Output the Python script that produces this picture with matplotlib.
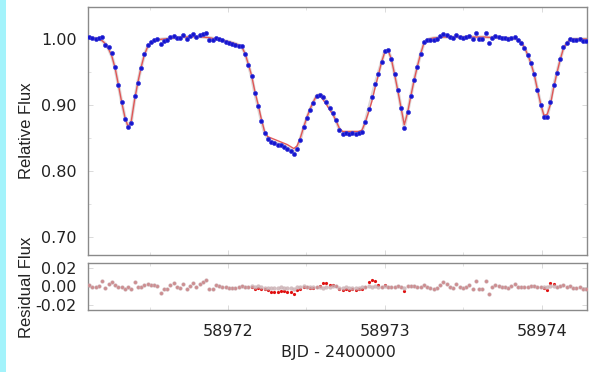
import numpy as np
import matplotlib
matplotlib.use("Agg")
import matplotlib.pyplot as plt
from matplotlib.patches import Rectangle

# Observation times (BJD - 2400000), ~30 min cadence
bjd = [
    58971.1150, 58971.1357, 58971.1564, 58971.1771, 58971.1978, 58971.2185, 58971.2392, 58971.2599,
    58971.2806, 58971.3013, 58971.3220, 58971.3427, 58971.3634, 58971.3841, 58971.4048, 58971.4255,
    58971.4462, 58971.4669, 58971.4876, 58971.5083, 58971.5290, 58971.5497, 58971.5704, 58971.5911,
    58971.6118, 58971.6325, 58971.6532, 58971.6739, 58971.6946, 58971.7153, 58971.7360, 58971.7567,
    58971.7774, 58971.7981, 58971.8188, 58971.8395, 58971.8602, 58971.8809, 58971.9016, 58971.9223,
    58971.9430, 58971.9637, 58971.9844, 58972.0051, 58972.0258, 58972.0465, 58972.0672, 58972.0879,
    58972.1086, 58972.1293, 58972.1500, 58972.1707, 58972.1914, 58972.2121, 58972.2328, 58972.2535,
    58972.2742, 58972.2949, 58972.3156, 58972.3363, 58972.3570, 58972.3777, 58972.3984, 58972.4191,
    58972.4398, 58972.4605, 58972.4812, 58972.5019, 58972.5226, 58972.5433, 58972.5640, 58972.5847,
    58972.6054, 58972.6261, 58972.6468, 58972.6675, 58972.6882, 58972.7089, 58972.7296, 58972.7503,
    58972.7710, 58972.7917, 58972.8124, 58972.8331, 58972.8538, 58972.8745, 58972.8952, 58972.9159,
    58972.9366, 58972.9573, 58972.9780, 58972.9987, 58973.0194, 58973.0401, 58973.0608, 58973.0815,
    58973.1022, 58973.1229, 58973.1436, 58973.1643, 58973.1850, 58973.2057, 58973.2264, 58973.2471,
    58973.2678, 58973.2885, 58973.3092, 58973.3299, 58973.3506, 58973.3713, 58973.3920, 58973.4127,
    58973.4334, 58973.4541, 58973.4748, 58973.4955, 58973.5162, 58973.5369, 58973.5576, 58973.5783,
    58973.5990, 58973.6197, 58973.6404, 58973.6611, 58973.6818, 58973.7025, 58973.7232, 58973.7439,
    58973.7646, 58973.7853, 58973.8060, 58973.8267, 58973.8474, 58973.8681, 58973.8888, 58973.9095,
    58973.9302, 58973.9509, 58973.9716, 58973.9923, 58974.0130, 58974.0337, 58974.0544, 58974.0751,
    58974.0958, 58974.1165, 58974.1372, 58974.1579, 58974.1786, 58974.1993, 58974.2200, 58974.2407,
    58974.2614, 58974.2821,
]

# Measured relative flux
flux = [
    1.0026, 1.0010, 1.0000, 1.0010, 1.0035, 0.9910, 0.9880, 0.9790, 0.9580, 0.9310,
    0.9040, 0.8790, 0.8660, 0.8730, 0.9130, 0.9330, 0.9560, 0.9780, 0.9910, 0.9960,
    0.9985, 0.9995, 0.9925, 0.9975, 0.9980, 1.0030, 1.0050, 1.0020, 1.0010, 1.0060,
    1.0000, 1.0040, 1.0070, 1.0030, 1.0060, 1.0080, 1.0090, 0.9990, 0.9980, 1.0020,
    1.0000, 0.9980, 0.9960, 0.9940, 0.9930, 0.9910, 0.9900, 0.9890, 0.9780, 0.9610,
    0.9440, 0.9180, 0.8990, 0.8760, 0.8570, 0.8480, 0.8440, 0.8420, 0.8400, 0.8390,
    0.8370, 0.8340, 0.8310, 0.8260, 0.8340, 0.8470, 0.8660, 0.8800, 0.8920, 0.9030,
    0.9140, 0.9150, 0.9120, 0.9050, 0.8950, 0.8880, 0.8770, 0.8620, 0.8560, 0.8570,
    0.8560, 0.8570, 0.8560, 0.8570, 0.8590, 0.8740, 0.8940, 0.9120, 0.9320, 0.9470,
    0.9650, 0.9820, 0.9830, 0.9700, 0.9470, 0.9230, 0.8950, 0.8650, 0.8890, 0.9140,
    0.9380, 0.9580, 0.9770, 0.9950, 0.9985, 0.9990, 0.9985, 1.0000, 1.0045, 1.0075,
    1.0060, 1.0030, 1.0015, 1.0060, 1.0030, 1.0015, 1.0030, 1.0045, 1.0000, 1.0090,
    1.0000, 1.0000, 1.0090, 0.9940, 1.0015, 1.0045, 1.0030, 1.0015, 1.0015, 1.0000,
    1.0015, 1.0030, 0.9985, 0.9940, 0.9860, 0.9760, 0.9640, 0.9470, 0.9230, 0.9000,
    0.8820, 0.8820, 0.9050, 0.9300, 0.9480, 0.9700, 0.9880, 0.9940, 1.0000, 0.9985,
    0.9985, 1.0000, 0.9970, 0.9970,
]

# Eclipse model evaluated at each observation time
model_ecl = [
    1.0010, 1.0010, 1.0010, 1.0000, 0.9975, 0.9930, 0.9850, 0.9740, 0.9560, 0.9310,
    0.9050, 0.8820, 0.8670, 0.8760, 0.9080, 0.9340, 0.9570, 0.9760, 0.9880, 0.9940,
    0.9970, 0.9985, 0.9995, 1.0000, 1.0005, 1.0010, 1.0015, 1.0020, 1.0025, 1.0030,
    1.0030, 1.0035, 1.0035, 1.0035, 1.0035, 1.0030, 1.0025, 1.0020, 1.0010, 1.0000,
    0.9990, 0.9980, 0.9970, 0.9960, 0.9945, 0.9930, 0.9910, 0.9880, 0.9780, 0.9620,
    0.9450, 0.9210, 0.9010, 0.8790, 0.8600, 0.8520, 0.8500, 0.8480, 0.8460, 0.8440,
    0.8420, 0.8400, 0.8370, 0.8340, 0.8380, 0.8500, 0.8660, 0.8810, 0.8940, 0.9050,
    0.9140, 0.9140, 0.9080, 0.9010, 0.8930, 0.8860, 0.8760, 0.8650, 0.8600, 0.8600,
    0.8600, 0.8600, 0.8600, 0.8600, 0.8620, 0.8740, 0.8890, 0.9050, 0.9260, 0.9450,
    0.9650, 0.9800, 0.9830, 0.9700, 0.9470, 0.9220, 0.8960, 0.8700, 0.8880, 0.9130,
    0.9370, 0.9580, 0.9770, 0.9930, 0.9985, 1.0005, 1.0015, 1.0020, 1.0025, 1.0030,
    1.0030, 1.0030, 1.0030, 1.0030, 1.0030, 1.0030, 1.0030, 1.0030, 1.0030, 1.0030,
    1.0030, 1.0030, 1.0030, 1.0025, 1.0025, 1.0025, 1.0020, 1.0020, 1.0015, 1.0015,
    1.0010, 1.0005, 0.9990, 0.9950, 0.9870, 0.9760, 0.9630, 0.9460, 0.9230, 0.9010,
    0.8840, 0.8860, 0.9010, 0.9270, 0.9490, 0.9690, 0.9860, 0.9940, 0.9990, 1.0000,
    1.0000, 1.0000, 1.0000, 1.0000,
]

# Full model (eclipse + spot/trend terms); differs from the eclipse model
# only across the deep blended eclipses
model_full = list(model_ecl)
model_full[50:101] = [
    0.9435, 0.9185, 0.8985,
    0.8765, 0.8585, 0.8495, 0.8455, 0.8435, 0.8415, 0.8400, 0.8385, 0.8355, 0.8325,
    0.8290, 0.8345, 0.8480, 0.8655, 0.8805, 0.8930, 0.9040, 0.9140, 0.9160, 0.9135,
    0.9060, 0.8960, 0.8870, 0.8765, 0.8635, 0.8580, 0.8580, 0.8575, 0.8585, 0.8575,
    0.8585, 0.8600, 0.8745, 0.8935, 0.9125, 0.9310, 0.9480, 0.9650, 0.9815, 0.9830,
    0.9705, 0.9470, 0.9225, 0.8960, 0.8670, 0.8885, 0.9135, 0.9375,
]
model_full[140:144] = [0.8830, 0.8830, 0.9045, 0.9295]

x_ticks = [58972, 58973, 58974]
flux_ticks = [0.70, 0.80, 0.90, 1.00]
resid_ticks = [-0.02, 0.00, 0.02]

t = np.array(bjd)
f = np.array(flux)
m_ecl = np.array(model_ecl)
m_full = np.array(model_full)
resid_ecl = f - m_ecl
resid_full = f - m_full

plt.rcParams["font.family"] = ["DejaVu Sans"]
plt.rcParams["axes.unicode_minus"] = False

fig = plt.figure(figsize=(6.0, 3.72), dpi=100)
fig.patch.set_facecolor("white")
fig.patches.append(Rectangle((0, 0), 6 / 600, 1, transform=fig.transFigure,
                             facecolor="#a3f3fb", edgecolor="none", zorder=0))

ax1 = fig.add_axes([88 / 600, 1 - 255 / 372, 499 / 600, 248 / 372])
ax2 = fig.add_axes([88 / 600, 1 - 310 / 372, 499 / 600, 47 / 372], sharex=ax1)

xlim = (58971.108, 58974.287)

# Upper panel: light curve and model
ax1.plot(t, m_full, color="#b8a8a8", lw=2.4, alpha=0.45, zorder=2)
ax1.plot(t, m_ecl, color="#e04848", lw=1.0, alpha=0.9, zorder=3)
ax1.plot(t, f, ls="none", marker="o", ms=2.9, mfc="#1515d0", mec="#3a3ad8",
         mew=0.5, zorder=4)
ax1.set_ylim(0.6727, 1.0485)
ax1.set_yticks(flux_ticks)
ax1.set_yticklabels([f"{v:.2f}" for v in flux_ticks])
ax1.set_yticks([0.75, 0.85, 0.95], minor=True)

# Lower panel: residuals
ax2.plot(t, resid_ecl, ls="none", marker="o", ms=2.3, mfc="#e01010", mec="none", zorder=3)
ax2.plot(t, resid_full, ls="none", marker="o", ms=3.1, mfc="#c9aeb2", mec="none",
         alpha=0.8, zorder=4)
ax2.set_ylim(-0.0254, 0.0254)
ax2.set_yticks(resid_ticks)
ax2.set_yticklabels([f"{v:.2f}" for v in resid_ticks])

ax1.set_xlim(*xlim)
ax2.set_xticks(x_ticks)
ax2.set_xticklabels([str(v) for v in x_ticks])
ax2.set_xticks([58971.5, 58972.5, 58973.5], minor=True)

for ax in (ax1, ax2):
    for sp in ax.spines.values():
        sp.set_color("#8a8a8a")
        sp.set_linewidth(1.0)
    ax.tick_params(which="both", direction="in", top=True, right=True,
                   color="#d4d4d4", labelsize=11.5, labelcolor="#222222")
    ax.tick_params(which="major", length=3.5, width=0.6, pad=8)
    ax.tick_params(which="minor", length=2, width=0.5)
ax1.tick_params(axis="x", labelbottom=False)
ax2.tick_params(axis="x", pad=10)

ylab_font = dict(rotation=90, ha="center", va="center", fontsize=12,
                 color="#222222", family=["Liberation Sans", "DejaVu Sans"])
fig.text(27 / 600, 1 - 131 / 372, "Relative Flux", **ylab_font)
fig.text(27 / 600, 1 - 287 / 372, "Residual Flux", **ylab_font)
fig.text(338 / 600, 1 - 353 / 372, "BJD - 2400000", ha="center", va="center",
         fontsize=11.5, color="#222222")

fig.savefig("out.png", dpi=100, facecolor="white")
